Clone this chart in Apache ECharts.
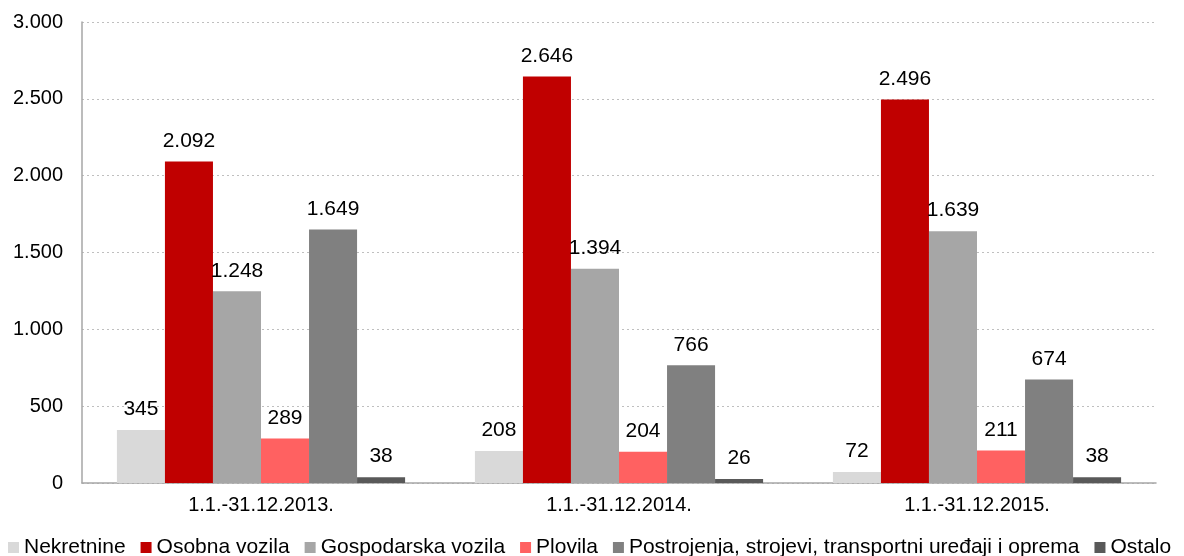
<!DOCTYPE html>
<html>
<head>
<meta charset="utf-8">
<script src="https://cdn.jsdelivr.net/npm/echarts@6/dist/echarts.min.js"></script>
<style>
  html, body { margin: 0; padding: 0; background: #fff; }
  #chart { width: 1184px; height: 556px; }
</style>
</head>
<body>
<div id="chart"></div>
<script>
const categories = ['1.1.-31.12.2013.', '1.1.-31.12.2014.', '1.1.-31.12.2015.'];
const seriesNames = ['Nekretnine', 'Osobna vozila', 'Gospodarska vozila', 'Plovila',
  'Postrojenja, strojevi, transportni uređaji i oprema', 'Ostalo'];
const nekretnine = [345, 208, 72];
const osobnaVozila = [2092, 2646, 2496];
const gospodarskaVozila = [1248, 1394, 1639];
const plovila = [289, 204, 211];
const postrojenja = [1649, 766, 674];
const ostalo = [38, 26, 38];
const colors = ['#D9D9D9', '#C00000', '#A6A6A6', '#FF6161', '#808080', '#595959'];

const values = [nekretnine, osobnaVozila, gospodarskaVozila, plovila, postrojenja, ostalo];

// Thousands separator with a dot
function fmt(v) {
  return String(v).replace(/\B(?=(\d{3})+(?!\d))/g, '.');
}

const font = 'Liberation Sans, Arial, sans-serif';

const chart = echarts.init(document.getElementById('chart'));
chart.setOption({
  animation: false,
  color: colors,
  grid: { left: 82, right: 28, top: 22, bottom: 73, containLabel: false },
  legend: {
    bottom: -7,
    left: 3,
    itemWidth: 11,
    itemHeight: 11,
    itemGap: 15,
    icon: 'rect',
    textStyle: { fontFamily: font, fontSize: 21, color: '#000' },
    data: seriesNames
  },
  xAxis: {
    type: 'category',
    data: categories,
    axisLine: { lineStyle: { color: '#A6A6A6', width: 1.5 } },
    axisTick: { show: false },
    axisLabel: { fontFamily: font, fontSize: 20, color: '#000', margin: 12 }
  },
  yAxis: {
    type: 'value',
    min: 0,
    max: 3000,
    interval: 500,
    axisLine: { show: true, lineStyle: { color: '#A6A6A6', width: 1.5 } },
    axisTick: { show: false },
    splitLine: { lineStyle: { color: '#BFBFBF', type: [2, 3], width: 1 } },
    axisLabel: { fontFamily: font, fontSize: 20, color: '#000', margin: 19, formatter: fmt }
  },
  series: seriesNames.map((name, i) => ({
    name: name,
    type: 'bar',
    data: values[i],
    barGap: '0%',
    barCategoryGap: '19.5%',
    itemStyle: { color: colors[i] },
    label: {
      show: true,
      position: 'top',
      distance: 10,
      fontFamily: font,
      fontSize: 21,
      color: '#000',
      formatter: p => fmt(p.value)
    }
  }))
});
</script>
</body>
</html>
